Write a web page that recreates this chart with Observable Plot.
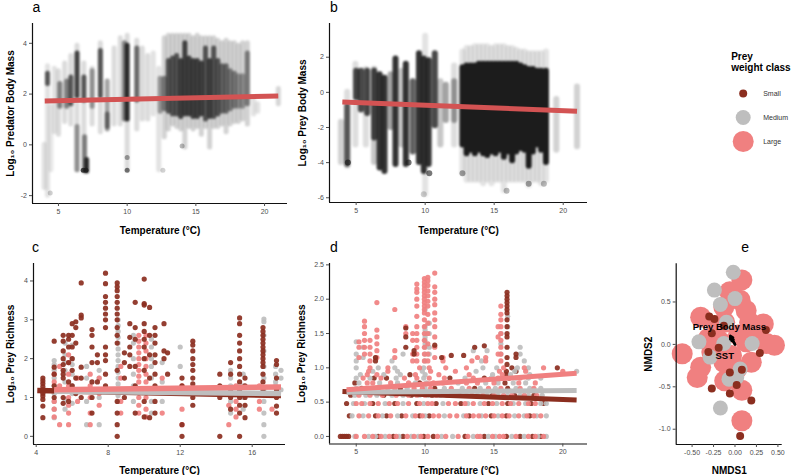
<!DOCTYPE html>
<html><head><meta charset="utf-8">
<script src="https://cdn.jsdelivr.net/npm/d3@7"></script>
<script src="https://cdn.jsdelivr.net/npm/@observablehq/plot@0.6"></script>
<style>
body{margin:0;background:#fff;}
#root{position:relative;width:797px;height:475px;overflow:hidden;background:#fff;font-family:"Liberation Sans",Arial,sans-serif;}
#root > div{position:absolute;}
</style></head>
<body><div id="root"></div>
<script>
// ---------- classes ----------
const CLASSES = ["Small", "Medium", "Large"];

// ---------- panel a: predator body mass vs temperature (density strips: t, lo, hi, density 0-10) ----------
const aStrips = [
  [3.95,-1.7,0.0,1.3],[4.2,-2.0,3.1,1.3],[4.2,2.4,2.8,7],[4.45,-1.0,1.5,1],[4.7,0.5,3.0,1.3],
  [5.0,0.4,2.9,1.6],[5.1,1.5,2.4,5],[5.45,0.9,3.2,1.6],[5.6,1.5,2.5,5],[5.9,0.8,3.5,1.6],[5.9,1.6,2.65,7],
  [6.35,-1.0,3.9,1.6],[6.35,1.9,3.6,8],[6.35,-1.0,0.7,4],[6.85,-1.0,3.2,1.6],[6.85,1.75,2.65,7],
  [6.9,-1.05,0.3,5],[7.05,-1.05,-0.6,9],[7.45,0.8,3.0,1.6],[7.45,1.5,2.9,4],[8.05,0.5,4.0,1.6],
  [8.05,1.9,3.7,7],[8.55,0.6,2.5,4],[8.55,0.7,1.2,5],[9.05,0.8,3.8,1.6],[9.5,0.8,4.2,1.6],
  [9.8,1.0,4.0,5],[10.0,-1.0,4.3,1.6],[10.0,1.0,3.9,9],[10.7,0.6,4.1,1.6],[10.7,1.75,3.8,6],
  [11.1,1.0,3.8,1.6],[11.5,1.0,3.5,1.6],[11.9,1.2,3.6,1.3],[12.3,-1.0,3.0,1.3],[12.4,1.3,2.6,4],
  [12.7,0.3,4.2,2],[13.0,0.6,4.3,2],[13.3,0.8,4.3,2],[13.6,0.7,4.3,2],[13.9,0.6,4.3,2],[14.2,-0.1,4.3,2],
  [14.5,0.7,4.3,2],[14.8,0.6,4.2,2],[15.1,0.7,4.3,2],[15.4,0.4,4.2,2],[15.7,0.7,4.2,2],[16.0,-0.1,4.2,2],
  [16.3,0.7,4.2,2],[16.6,0.7,4.1,2],[16.9,0.8,4.0,2],[17.2,0.5,4.1,2],[17.5,0.8,4.0,2],[17.8,0.9,4.0,2],
  [18.1,0.9,3.9,2],[18.4,1.0,4.0,2],[18.75,0.8,4.0,2],
  [12.7,1.4,2.6,5],[13.0,1.3,3.3,7],[13.3,1.2,3.4,7],[13.6,1.2,3.5,7],[13.9,1.1,3.3,8],[14.2,1.2,4.0,8],
  [14.5,1.2,3.4,8],[14.8,1.1,3.3,8],[15.1,1.1,3.3,8],[15.4,1.2,3.2,8],[15.7,1.0,3.8,7],[16.0,1.1,3.3,8],
  [16.3,1.1,3.8,7],[16.6,1.2,3.3,7],[16.9,1.3,3.1,6],[17.2,1.3,3.1,6],[17.5,1.4,2.9,5],[17.8,1.5,2.8,5],
  [18.1,1.5,2.7,4],[18.4,1.5,2.7,4],[18.75,1.6,3.6,5],
  [19.2,1.2,1.8,1.3],[19.5,1.3,1.6,1.3],[21.0,1.6,2.2,1.8]
];
const aDots = [[7.0,-1.0,8],[6.8,-1.0,8],[10.0,-1.0,6],[10.0,-0.5,4],[14.0,-0.05,3],[12.6,-1.0,2],[4.4,-1.9,2]];
const aFit = [4.0, 1.73, 21.0, 1.92];

// ---------- panel b: prey body mass vs temperature ----------
const bStrips = [
  [3.9,-4.0,-1.7,2],[4.35,-4.2,0.0,1.5],[4.35,-4.1,-0.8,7],[4.95,-3.0,1.6,1.5],[5.0,-0.3,1.2,8],
  [5.35,-1.0,1.2,8],[5.7,-3.0,1.3,1.5],[5.8,-1.2,1.2,8],[6.3,-4.0,1.3,2.5],[6.3,-2.6,1.2,8],
  [6.7,-4.3,1.0,9],[7.05,-4.5,0.8,9],[7.5,-2.0,1.0,4],[7.85,-4.1,1.9,9],[8.3,-3.0,1.2,2.5],
  [8.6,-4.1,1.6,9],[9.1,-3.4,0.6,7],[9.55,-4.0,2.2,9],[9.9,-4.5,1.9,9],[10.25,-4.1,1.8,9],
  [10.0,-5.8,3.2,1.2],[10.7,-1.9,2.2,8],[11.1,-3.0,0.6,2.5],[11.5,-1.6,0.4,4],[12.1,-1.6,0.6,4],[12.1,-3.0,1.5,1.5],
  [12.7,-4.6,2.3,1.2],[13.0,-5.0,2.5,1.2],[13.3,-5.0,2.5,1.2],[13.6,-5.0,2.6,1.2],[13.9,-5.0,2.6,1.2],[14.2,-5.2,2.6,1.2],
  [14.5,-5.0,2.6,1.2],[14.8,-5.2,2.5,1.2],[15.1,-5.0,2.6,1.2],[15.4,-5.0,2.6,1.2],[15.7,-5.6,2.6,1.2],[16.0,-5.0,2.5,1.2],
  [16.3,-5.0,2.5,1.2],[16.6,-5.0,2.4,1.2],[16.9,-5.0,2.3,1.2],[17.2,-5.0,2.3,1.2],[17.5,-5.3,2.2,1.2],[17.8,-5.0,2.2,1.2],
  [18.1,-5.0,2.2,1.2],[18.4,-5.2,2.2,1.2],[18.75,-5.0,2.3,1.2],
  [12.7,-3.0,1.4,10],[13.0,-3.5,1.5,10],[13.3,-3.3,1.5,10],[13.6,-3.5,1.5,10],[13.9,-3.3,1.6,10],[14.2,-3.5,1.6,10],
  [14.5,-3.6,1.6,10],[14.8,-3.4,1.6,10],[15.1,-3.5,1.6,10],[15.4,-3.3,1.6,10],[15.7,-3.7,1.6,10],[16.0,-3.4,1.6,10],
  [16.3,-3.9,1.6,10],[16.6,-3.4,1.6,10],[16.9,-3.2,1.5,10],[17.2,-3.3,1.4,10],[17.5,-4.2,1.3,10],[17.8,-3.4,1.3,10],
  [18.1,-3.0,1.2,10],[18.4,-3.3,1.2,10],[18.75,-4.0,1.2,10],
  [19.5,-3.3,-0.4,2],[21.0,-3.1,0.3,2]
];
const bDots = [[9.9,-5.8,2],[10.3,-4.6,6],[15.9,-5.6,3],[17.5,-5.2,4],[18.6,-5.2,3],[12.7,-4.6,4],[8.8,-4.0,6],[4.4,-4.0,7]];
const bFit = [4.0, -0.55, 21.0, -1.07];

// ---------- panel c: log10 prey richness vs temperature, columns [t, [y...]] ----------
const cSmall = [
  [4.37,[0.48,0.78,0.95,1.04,1.11,1.2,1.28,1.36,1.43,1.5]],
  [5.0,[2.45,1.78,1.6,1.3,1.0]],
  [5.5,[2.6,2.45,2.2,2.0,1.85,1.7,1.6,1.5,1.0,0.85]],
  [5.8,[2.6,2.5,2.3,1.9,1.4,1.2,0.9]],
  [6.0,[2.9,2.6,2.3,2.0,1.7,1.3]],
  [6.2,[2.95,2.8,2.4,1.5,1.1]],
  [6.5,[3.95,3.12,3.05,1.78,1.5,1.0]],
  [7.1,[2.75,2.6,2.3,1.9,1.4,1.0,0.6]],
  [7.4,[2.1,1.9,1.4]],
  [7.85,[4.2,3.93,3.6,3.45,3.3,3.15,3.0,2.8,2.3,2.1,1.95,1.6,1.3]],
  [8.5,[3.95,3.85,3.75,3.6,3.45,3.3,3.15,3.0,2.8,2.6,2.4,1.7,1.2,0.9,0.6,0.3,0.0]],
  [8.9,[2.15,1.9,1.5,1.0]],
  [9.2,[2.9,2.55,2.3,2.1,1.8,1.2]],
  [9.5,[3.45,2.8,2.5,1.8,1.3,0.6]],
  [10.0,[4.05,3.42,3.38,2.9,2.7,2.5,2.3,2.0,1.7,0.9,0.5]],
  [10.3,[3.32,2.6,2.1,1.5,0.48]],
  [10.6,[2.8,2.6,2.4,2.1,1.9,1.6,1.3,0.9,0.6]],
  [11.1,[2.9,2.2,2.0]],
  [11.3,[2.15,1.6]],
  [12.1,[1.5,1.3,0.3,0.0]],
  [12.7,[2.45,2.35,2.2,2.0,1.85,1.7,1.5,1.35,1.2,1.0,0.8]],
  [14.2,[1.6,1.3,1.0,0.0]],
  [14.8,[1.9,1.6,1.2,1.0,0.7]],
  [15.3,[3.05,2.9,2.6,2.4,2.2,2.0,1.8,1.6,1.4,1.2,1.0,0.8,0.6,0.0]],
  [15.6,[1.5,1.3,1.0,0.8,0.48]],
  [16.6,[2.8,2.7,2.6,2.5,2.4,2.3,2.2,2.1,2.0,1.9,1.8,1.6,1.4,1.2,1.1]],
  [17.35,[1.95,1.85,1.5,1.2,1.0,0.78,0.6]]
];
const cMedium = [
  [5.0,[1.95,1.85,1.7,1.5,1.3,1.1,0.9,0.7,0.48]],
  [5.6,[2.4,2.1,1.9,1.7,1.4,1.2,0.95,0.7]],
  [6.0,[2.35,2.0,1.85,1.6,1.3,1.1,0.85]],
  [6.8,[1.8,1.5,1.2,0.9,0.3]],
  [7.5,[1.7,1.5,1.2,1.0,0.3]],
  [8.55,[3.0,2.85,2.7,2.55,2.4,2.25,2.1,1.95,1.8,1.65,1.5,1.35,1.2,1.05,0.9]],
  [9.4,[2.6,2.4,2.0,1.6,1.3,0.9]],
  [10.4,[2.5,2.3,2.0,1.8,1.5,1.2,0.9,0.6]],
  [11.0,[1.9,1.4,0.9]],
  [12.0,[2.3,1.8,1.2]],
  [14.8,[1.7,1.5,1.3,1.1,0.9,0.6]],
  [15.5,[1.6,1.3,1.0,0.7]],
  [16.65,[3.02,2.95,2.6,2.2,1.8,1.5,1.2,0.9,0.6,0.3,0.0]],
  [17.3,[1.8,1.6,1.4,1.3]],
  [17.6,[1.7,1.5,1.2]]
];
const cLarge = [
  [5.0,[1.6,1.4,1.2,0.9,0.7,0.5]],
  [5.3,[1.8,1.3,0.3]],
  [5.8,[2.1,1.9,1.6,1.3,1.0,0.8,0.6,0.3]],
  [6.3,[1.5,1.2,0.9]],
  [7.0,[1.6,1.3,1.0,0.6,0.3]],
  [7.5,[1.5,1.1,0.8]],
  [8.7,[1.8,1.5,1.2,0.9,0.6]],
  [9.7,[2.6,2.45,2.3,2.15,2.0,1.85,1.7,1.55,1.4,1.2,1.0,0.8,0.6]],
  [10.1,[2.6,2.4,2.2,2.0,1.8,1.6,1.4,1.2,1.0,0.7,0.5]],
  [11.0,[1.5,1.2,0.6]],
  [12.1,[1.3,0.7,0.3]],
  [14.7,[1.1,0.8,0.3]],
  [15.1,[1.3,1.1,0.9,0.7,0.5]],
  [16.4,[1.3,1.1,0.9,0.7]],
  [17.1,[0.7]]
];
const cFits = [["Small",4.06,1.18,17.6,1.05],["Medium",5.0,1.16,17.6,1.1],["Large",5.0,1.2,17.6,1.27]];

// ---------- panel d: rows [y, [t...]] and columns [t, [y...]] ----------
const dSmallRows = [
  [0,[3.85,4.0,4.15,4.3,4.45,6.6,7.7,8.4,9.9,10.6,12.9,14.3,15.9,16.9,17.8,18.4]],
  [0.3,[4.5,6.4,7.2,8.3,9.6,10.3,13.2,14.8,15.9,17.6]],
  [0.48,[4.3,6.2,7.8,9.4,10.8,12.6,14.6,16.0,17.7,18.6]],
  [0.6,[4.6,7.0,9.0,10.5,12.5,14.9,16.5,17.9]],
  [0.7,[5.4,8.2,10.7,13.6,16.0]],
  [0.78,[4.9,9.6,15.8]],
  [0.85,[6.3,7.2,11.8,14.3,16.1]],
  [0.9,[8.9,15.9]],
  [0.95,[15.9,16.6]],
  [1.0,[16.3,19.6]]
];
const dMediumRows = [
  [0,[4.9,5.9,6.4,7.1,8.1,9.0,9.5,11.2,12.0,13.5,14.6,15.1,16.3,17.2,18.2,18.8]],
  [0.3,[4.7,5.5,6.9,8.0,9.1,10.0,11.4,12.8,14.1,15.3,16.5,17.2,18.1,18.8]],
  [0.48,[4.8,5.6,7.1,8.4,9.9,11.3,13.1,14.0,15.2,16.4,17.3,18.4,18.8]],
  [0.6,[4.9,5.7,6.5,7.6,8.4,9.6,10.2,11.1,12.0,13.0,13.8,14.5,15.3,16.0,16.9,17.5,18.5]],
  [0.7,[5.0,6.2,7.3,8.7,10.0,11.4,12.7,14.0,15.1,16.6,17.6,18.4]],
  [0.78,[5.2,6.7,8.0,9.3,10.1,12.4,14.4,15.3,16.4,17.3]],
  [0.85,[5.0,6.0,7.9,9.9,12.9,14.8,16.6,17.5,18.4]],
  [0.9,[5.3,7.0,8.2,10.0,14.9,16.2,17.6]],
  [0.95,[6.2,8.0,9.8,13.7,16.5,21.0]],
  [1.0,[5.0,6.6,7.8,9.9,14.2,15.2,16.7,17.5]]
];
const dLargeRows = [
  [0,[5.0,5.6,6.2,6.8,7.4,7.9,8.7,9.2,9.7,10.2,10.9,11.5,12.4,13.1,13.8,14.0,14.9,15.4,15.7,16.6,17.5,18.0,18.6]],
  [0.3,[5.2,5.9,6.6,7.5,8.6,9.3,9.8,10.6,11.0,11.8,12.3,13.0,13.5,13.9,14.4,15.0,15.6,16.1,16.8,17.4,17.9,18.4]],
  [0.48,[5.0,5.4,6.0,6.6,7.4,8.0,8.8,9.6,10.2,10.5,11.7,12.2,12.9,13.5,14.3,14.9,15.6,16.2,16.8,17.5,18.0]],
  [0.6,[5.2,6.0,6.9,7.9,8.8,9.4,10.0,10.8,11.6,12.3,13.4,14.2,15.0,15.7,16.3,17.2,18.1]],
  [0.7,[5.7,6.6,7.8,9.2,9.8,10.4,11.9,13.2,14.6,15.5,16.9,17.9]],
  [0.78,[5.8,6.2,7.5,8.8,10.6,11.3,13.0,13.8,15.0,16.8,18.0]],
  [0.85,[5.5,6.8,8.5,9.4,10.3,11.4,13.5,15.3,16.9]],
  [0.9,[5.8,6.5,9.3,11.0,13.2,15.6]],
  [0.95,[5.9,7.3,10.4,12.2,15.4,17.3,20.0]],
  [1.0,[6.0,7.3,9.6,10.3,11.5,13.0,15.7,17.2,18.6]]
];
const dSmallCols = [
  [6.4,[1.1,1.15]],[8.6,[1.58,1.45,1.3]],[9.2,[1.25,1.2]],[10.7,[1.33]],[11.2,[1.15]],[11.9,[1.18]],
  [12.8,[1.18]],[13.6,[1.3]],[14.3,[1.32]],
  [15.95,[2.1,2.05,2.0,1.95,1.9,1.85,1.8,1.7,1.6,1.5,1.45,1.3,1.15,1.05]],[16.6,[1.2,1.15]]
];
const dMediumCols = [
  [5.0,[1.38,1.2,1.1]],[5.5,[1.3,1.15]],[6.4,[1.15]],[7.6,[1.1]],[8.4,[1.2]],
  [10.0,[1.85,1.6,1.55,1.5,1.45,1.4,1.35,1.3,1.2,1.1]],[10.3,[1.65,1.5,1.3,1.2]],
  [13.5,[1.25]],[14.1,[1.1]],[14.5,[1.25]],[15.5,[1.5,1.35,1.2]],[16.0,[1.75,1.6]],[16.9,[1.3,1.2]],[17.2,[1.1]]
];
const dLargeCols = [
  [5.6,[1.68,1.6,1.5,1.4,1.3,1.2]],[5.2,[1.38,1.3,1.15]],[6.0,[1.4,1.3,1.2,1.1]],
  [6.5,[1.95,1.55,1.45,1.35,1.25,1.15]],[7.8,[1.85,1.25,1.15]],[8.6,[1.6,1.5]],[9.1,[1.5,1.4,1.2,1.1]],
  [9.4,[2.22,2.15,2.1,2.0,1.9,1.75,1.6,1.5,1.4,1.3,1.2,1.1]],
  [9.95,[2.3,2.25,2.2,2.15,2.1,2.05,2.0,1.95,1.9,1.85,1.8,1.7,1.6,1.5,1.4,1.3,1.2,1.1]],
  [10.2,[2.32,2.27,2.2,2.12,2.05,1.97,1.9,1.78,1.65,1.5,1.35,1.2,1.1]],
  [10.7,[2.38,2.18,2.1,2.0,1.92,1.8,1.7,1.6,1.45,1.3,1.15]],
  [11.3,[1.15,1.1]],[13.4,[1.1]],[13.8,[1.15]],[14.4,[1.15,1.1]],
  [15.5,[1.9,1.78,1.7,1.6,1.5,1.4,1.3,1.2,1.1]],[15.3,[1.6,1.45,1.2]]
];
const dFits = [["Small",4.0,0.655,21.0,0.53],["Medium",4.3,0.645,21.0,0.67],["Large",4.3,0.68,21.0,0.92]];

// ---------- panel e: NMDS sites [NMDS1, NMDS2, class] ----------
const eSites = [
  [-0.615,-0.11,"Large"],[-0.40,-0.27,"Large"],[-0.44,-0.39,"Large"],[-0.42,0.03,"Medium"],[-0.40,0.32,"Large"],
  [-0.31,0.07,"Large"],[-0.30,0.33,"Small"],[-0.24,0.30,"Small"],[0.08,0.76,"Large"],[-0.02,0.85,"Medium"],
  [-0.06,0.62,"Large"],[-0.24,0.64,"Medium"],[-0.13,0.44,"Large"],[-0.17,0.47,"Medium"],[0.06,0.52,"Large"],
  [0.0,0.54,"Medium"],[0.13,0.40,"Large"],[0.33,0.24,"Large"],[0.17,0.26,"Large"],[-0.12,0.26,"Large"],
  [-0.10,0.26,"Medium"],[-0.21,0.22,"Large"],[-0.13,0.22,"Small"],[-0.27,0.13,"Small"],[-0.13,0.01,"Medium"],
  [-0.19,-0.04,"Small"],[-0.31,-0.09,"Small"],[-0.27,-0.09,"Large"],[-0.29,-0.15,"Medium"],[-0.17,0.03,"Large"],
  [0.04,0.11,"Large"],[0.23,0.15,"Large"],[0.36,0.17,"Small"],[0.37,0.01,"Large"],[0.46,-0.01,"Large"],
  [0.20,0.01,"Medium"],[0.29,-0.10,"Small"],[0.13,0.03,"Large"],[-0.04,-0.13,"Large"],[0.19,-0.21,"Large"],
  [-0.13,-0.21,"Large"],[0.06,-0.29,"Medium"],[0.08,-0.30,"Small"],[0.02,-0.29,"Large"],[-0.06,-0.33,"Small"],
  [-0.12,-0.43,"Large"],[-0.07,-0.41,"Medium"],[0.02,-0.39,"Medium"],[-0.27,-0.52,"Small"],[0.02,-0.48,"Small"],
  [0.08,-0.54,"Large"],[-0.06,-0.58,"Small"],[0.19,-0.66,"Small"],[-0.17,-0.75,"Medium"],[0.08,-0.90,"Large"],
  [0.06,-1.08,"Small"]
];
const eArrows = [["Prey Body Mass",-0.055,0.10],["SST",-0.04,0.07]];
const eLabels = [["Prey Body Mass",-0.065,0.21],["SST",-0.12,-0.14]];

// ---------- tick labels ----------
const aXTicks = [5,10,15,20], aYTicks = [-2,0,2,4];
const bXTicks = [5,10,15,20], bYTicks = [-6,-4,-2,0,2];
const cXTicks = [4,8,12,16], cYTicks = [0,1,2,3,4];
const dXTicks = [5,10,15,20], dYTicks = [0,0.5,1.0,1.5,2.0,2.5];
const eXTicks = [-0.5,-0.25,0,0.25,0.5], eYTicks = [-1.0,-0.5,0,0.5];

// ================= rendering =================
const FONT = "'Liberation Sans', Arial, Helvetica, sans-serif";
const CLASS_COLORS = ["#8b2e1f", "#bebebe", "#f08080"];
const FIT_RED = "#d35353";
const SIZE = {Small: 4, Medium: 7.5, Large: 10.5};
const root = document.getElementById("root");
const cols = (c, cls) => c.flatMap(([t, ys]) => ys.map(y => ({t, y, cls})));
const rows = (r, cls) => r.flatMap(([y, ts]) => ts.map(t => ({t, y, cls})));
const num = d => String(d);

function place(node, left, top) {
  const div = document.createElement("div");
  div.style.left = left + "px"; div.style.top = top + "px";
  div.appendChild(node); root.appendChild(div);
}

function panel(o) {
  const [mt, mr, mb, ml] = o.margin;
  const svg = Plot.plot({
    width: o.width, height: o.height,
    marginTop: mt, marginRight: mr, marginBottom: mb, marginLeft: ml,
    x: {domain: o.xDomain}, y: {domain: o.yDomain},
    r: {type: "identity"},
    color: {domain: CLASSES, range: CLASS_COLORS},
    opacity: {domain: [0, 10], range: [0, 1]},
    style: {background: "transparent", overflow: "visible", fontFamily: FONT},
    marks: [
      ...o.marks,
      Plot.ruleX([o.xDomain[0]], {stroke: "#111", strokeWidth: 1.2}),
      Plot.ruleY([o.yDomain[0]], {stroke: "#111", strokeWidth: 1.2}),
      Plot.axisX({ticks: o.xTicks, tickSize: 3, tickPadding: 2.5, fontSize: 7, tickFormat: o.xFmt || num, color: "#4d4d4d", label: null}),
      Plot.axisY({ticks: o.yTicks, tickSize: 3, tickPadding: 2.5, fontSize: 7, tickFormat: o.yFmt || num, color: "#4d4d4d", label: null}),
      Plot.text([o.xTitle], {text: d => d, frameAnchor: "bottom", dy: o.xTitleDy, fontWeight: "bold", fontSize: 10, textAnchor: "middle", lineAnchor: "middle", fill: "#000"}),
      Plot.text([o.yTitle], {text: d => d, frameAnchor: "left", dx: o.yTitleDx, rotate: -90, fontWeight: "bold", fontSize: 10, textAnchor: "middle", lineAnchor: "middle", fill: "#000"}),
      Plot.text([o.letter], {text: d => d, frameAnchor: "top-left", dx: o.letterDx, dy: -16, fontSize: 14, textAnchor: "middle", lineAnchor: "middle", fill: "#000"})
    ]
  });
  // soften the density strips so they read as clouds of translucent points
  svg.querySelectorAll('g[aria-label="rule"]').forEach(g => {
    if (g.querySelectorAll("line").length > 2) g.style.filter = "blur(0.9px)";
  });
  place(svg, o.left, o.top);
}

const strip = (data, w) => Plot.ruleX(data, {x: d => d[0], y1: d => d[1], y2: d => d[2], strokeOpacity: d => d[3], stroke: "#1c1c1c", strokeWidth: w, strokeLinecap: "round"});
const sparse = (data, r) => Plot.dot(data, {x: d => d[0], y: d => d[1], fillOpacity: d => d[2], fill: "#1c1c1c", r});
const fit = (f, w) => Plot.link([f], {x1: d => d[0], y1: d => d[1], x2: d => d[2], y2: d => d[3], stroke: FIT_RED, strokeWidth: w, strokeLinecap: "butt"});
const classFits = (f, w) => Plot.link(f, {x1: d => d[1], y1: d => d[2], x2: d => d[3], y2: d => d[4], stroke: d => d[0], strokeWidth: w, strokeLinecap: "butt"});
const classDots = (data, r) => Plot.dot(data, {x: "t", y: "y", fill: "cls", r, fillOpacity: 0.92});

// a
panel({left: 0, top: 0, width: 290, height: 240, margin: [23, 3, 37, 32],
  xDomain: [3.11, 21.67], yDomain: [-2.31, 4.78], xTicks: aXTicks, yTicks: aYTicks,
  xTitle: "Temperature (°C)", xTitleDy: 27, yTitle: "Log₁₀ Predator Body Mass", yTitleDx: -22,
  letter: "a", letterDx: 4,
  marks: [strip(aStrips, 5), sparse(aDots, 2.5), fit(aFit, 5)]});

// b
panel({left: 290, top: 0, width: 300, height: 240, margin: [23, 3, 38, 39],
  xDomain: [3.07, 21.76], yDomain: [-6.27, 3.92], xTicks: bXTicks, yTicks: bYTicks,
  xTitle: "Temperature (°C)", xTitleDy: 28, yTitle: "Log₁₀ Prey Body Mass", yTitleDx: -27,
  letter: "b", letterDx: 4.3,
  marks: [strip(bStrips, 6), sparse(bDots, 3), fit(bFit, 5)]});

// c
panel({left: 0, top: 225, width: 290, height: 250, margin: [38, 5, 31, 33],
  xDomain: [3.85, 17.85], yDomain: [-0.21, 4.45], xTicks: cXTicks, yTicks: cYTicks,
  xTitle: "Temperature (°C)", xTitleDy: 26, yTitle: "Log₁₀ Prey Richness", yTitleDx: -23,
  letter: "c", letterDx: 2,
  marks: [
    classDots(cols(cMedium, "Medium"), 2.6), classDots(cols(cLarge, "Large"), 2.6), classDots(cols(cSmall, "Small"), 2.6),
    classFits(cFits, 5.5)
  ]});

// d
panel({left: 290, top: 225, width: 300, height: 250, margin: [38, 3, 31.5, 39],
  xDomain: [3.06, 21.79], yDomain: [-0.11, 2.52], xTicks: dXTicks, yTicks: dYTicks, yFmt: d => d.toFixed(1),
  xTitle: "Temperature (°C)", xTitleDy: 26.5, yTitle: "Log₁₀ Prey Richness", yTitleDx: -28,
  letter: "d", letterDx: 4.3,
  marks: [
    classDots(rows(dSmallRows, "Small"), 2.6), classDots(rows(dMediumRows, "Medium"), 2.6), classDots(rows(dLargeRows, "Large"), 2.6),
    classDots(cols(dMediumCols, "Medium"), 2.6), classDots(cols(dLargeCols, "Large"), 2.6), classDots(cols(dSmallCols, "Small"), 2.6),
    classFits(dFits, 5)
  ]});

// e
panel({left: 640, top: 225, width: 157, height: 250, margin: [38.3, 15.3, 31, 35.7],
  xDomain: [-0.685, 0.55], yDomain: [-1.18, 0.95], xTicks: eXTicks, yTicks: eYTicks,
  xFmt: d => d.toFixed(2), yFmt: d => d.toFixed(1),
  xTitle: "NMDS1", xTitleDy: 26, yTitle: "NMDS2", yTitleDx: -27.2,
  letter: "e", letterDx: 69,
  marks: [
    Plot.dot(eSites, {x: d => d[0], y: d => d[1], fill: d => d[2], r: d => SIZE[d[2]]}),
    Plot.arrow(eArrows, {x1: () => 0, y1: () => 0, x2: d => d[1], y2: d => d[2], stroke: "#000", strokeWidth: 2.5, headLength: 6}),
    Plot.text(eLabels, {x: d => d[1], y: d => d[2], text: d => d[0], fontWeight: "bold", fontSize: 9.5, fill: "#000"})
  ]});

// legend
const legend = Plot.plot({
  width: 69, height: 115, marginTop: 52, marginBottom: 13.3, marginLeft: 0, marginRight: 0,
  y: {type: "point", domain: CLASSES, padding: 0, axis: null},
  color: {domain: CLASSES, range: CLASS_COLORS},
  style: {background: "transparent", overflow: "visible", fontFamily: FONT},
  marks: [
    ...CLASSES.map(c => Plot.dot([c], {y: d => d, fill: d => d, r: SIZE[c], frameAnchor: "left", dx: 14.7})),
    Plot.text(CLASSES, {y: d => d, text: d => d, frameAnchor: "left", dx: 34.7, textAnchor: "start", fontSize: 7, fill: "#333"}),
    Plot.text(["Prey\nweight class"], {text: d => d, frameAnchor: "top-left", dx: 2.7, dy: -30.2, textAnchor: "start", lineAnchor: "middle", fontWeight: "bold", fontSize: 10, lineHeight: 1.05, fill: "#000"})
  ]
});
place(legend, 728, 40);
</script>
</body></html>
